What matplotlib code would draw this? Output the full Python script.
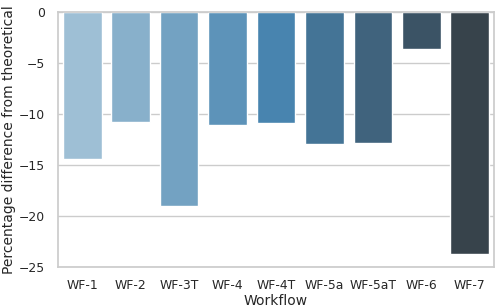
import matplotlib
matplotlib.use("Agg")
import matplotlib.pyplot as plt
import seaborn as sns
import pandas as pd

workflows = ["WF-1", "WF-2", "WF-3T", "WF-4", "WF-4T", "WF-5a", "WF-5aT", "WF-6", "WF-7"]
pct_diff = [-14.45, -10.8, -19.05, -11.1, -10.9, -13.0, -12.85, -3.65, -23.75]

sns.set_theme(style="whitegrid")
plt.rcParams['font.family'] = ['DejaVu Sans']

df = pd.DataFrame({"Workflow": workflows, "diff": pct_diff})
fig, ax = plt.subplots(figsize=(5.0, 3.07), dpi=100)
sns.barplot(data=df, x="Workflow", y="diff", hue="Workflow", palette="Blues_d", legend=False, ax=ax)
ax.set_ylim(-25, 0)
ax.set_ylabel("Percentage difference from theoretical", fontsize=10, labelpad=2)
ax.set_xlabel("Workflow", fontsize=10, labelpad=1.5)
ax.tick_params(axis='both', labelsize=8.9)
ax.tick_params(axis='x', pad=2.5)
fig.subplots_adjust(left=0.116, right=0.988, top=0.962, bottom=0.131)
fig.savefig("out.png", dpi=100)
